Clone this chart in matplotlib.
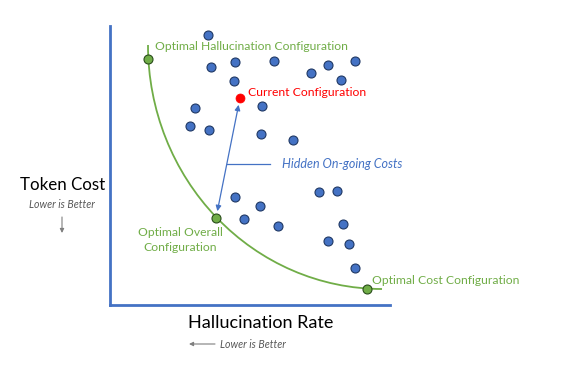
import matplotlib.pyplot as plt
from matplotlib.patches import Arc

plt.rcParams['font.family'] = ['Lato', 'DejaVu Sans']

BLUE = '#4472C4'
GREEN = '#70AD47'
RED = '#FF0000'

# other configurations (hallucination rate, token cost), arbitrary units
other_x = [98, 101, 125, 164, 201, 218, 245, 231, 124,
           85, 152, 80, 99, 151, 183,
           125, 150, 134, 168, 209, 227, 233, 218, 239, 245]
other_y = [270, 238, 243, 244, 232, 240, 244, 225, 224,
           197, 199, 179, 175, 171, 165,
           108, 99, 86, 79, 113, 114, 81, 64, 61, 37]

# points on the frontier: hallucination, overall, cost
optimal_x = [38, 106, 257]
optimal_y = [246, 87, 16]
optimal_names = ['Optimal Hallucination Configuration',
                 'Optimal Overall\nConfiguration',
                 'Optimal Cost Configuration']

current_x = 130
current_y = 207

# frontier drawn as a quarter ellipse
frontier_center = (272, 260)
frontier_w = 468
frontier_h = 488

fig = plt.figure(figsize=(5.7, 3.82), dpi=100)
ax = fig.add_axes([110 / 570, 77 / 382, 280 / 570, 279 / 382])
ax.set_xlim(0, 280)
ax.set_ylim(0, 279)
ax.set_xticks([])
ax.set_yticks([])
for side in ['top', 'right']:
    ax.spines[side].set_visible(False)
for side in ['left', 'bottom']:
    ax.spines[side].set_color(BLUE)
    ax.spines[side].set_linewidth(2)

ax.add_patch(Arc(frontier_center, frontier_w, frontier_h, theta1=180,
                 theta2=270, color=GREEN, lw=1.3))

ax.scatter(other_x, other_y, s=42, color=BLUE, edgecolors='#1F3864',
           linewidths=0.8, zorder=3)
ax.scatter(optimal_x, optimal_y, s=42, color=GREEN, edgecolors='#294D1A',
           linewidths=0.8, zorder=3)
ax.scatter([current_x], [current_y], s=42, color=RED, edgecolors=RED,
           linewidths=0.5, zorder=3)

# hidden costs arrow between current and overall optimum
ax.annotate('', xy=(optimal_x[1], optimal_y[1]), xytext=(current_x, current_y),
            arrowprops=dict(arrowstyle='<|-|>', color=BLUE, lw=0.9,
                            shrinkA=5, shrinkB=5, mutation_scale=8))
ax.plot([117, 160], [141, 141], color=BLUE, lw=0.9)
ax.text(172, 141, 'Hidden On-going Costs', color=BLUE, fontsize=9,
        style='italic', va='center', ha='left')

ax.text(current_x + 8, current_y + 6, 'Current Configuration', color=RED,
        fontsize=8.7, va='center', ha='left')
ax.text(optimal_x[0] + 7, optimal_y[0] + 12, optimal_names[0], color=GREEN,
        fontsize=8.7, va='center', ha='left')
ax.text(70, 65, optimal_names[1], color=GREEN, fontsize=8.7, va='center',
        ha='center', linespacing=1.35)
ax.text(optimal_x[2] + 5, optimal_y[2] + 9, optimal_names[2], color=GREEN,
        fontsize=8.7, va='center', ha='left', clip_on=False)

# axis titles
fig.text(63 / 570, 1 - 185 / 382, 'Token Cost', fontsize=12.2, ha='center',
         va='center')
fig.text(62 / 570, 1 - 205 / 382, 'Lower is Better', fontsize=7.6, ha='center',
         va='center', style='italic', color='#595959')
ax.annotate('', xy=(62 / 570, 1 - 233 / 382), xytext=(62 / 570, 1 - 217 / 382),
            xycoords='figure fraction', textcoords='figure fraction',
            arrowprops=dict(arrowstyle='-|>', color='#7F7F7F', lw=0.8,
                            mutation_scale=6, shrinkA=0, shrinkB=0))
fig.text(261 / 570, 1 - 323 / 382, 'Hallucination Rate', fontsize=13,
         ha='center', va='center')
fig.text(220 / 570, 1 - 344 / 382, 'Lower is Better', fontsize=7.6, ha='left',
         va='center', style='italic', color='#595959')
ax.annotate('', xy=(189 / 570, 1 - 344 / 382), xytext=(215 / 570, 1 - 344 / 382),
            xycoords='figure fraction', textcoords='figure fraction',
            arrowprops=dict(arrowstyle='-|>', color='#7F7F7F', lw=0.8,
                            mutation_scale=6, shrinkA=0, shrinkB=0))

fig.savefig('out.png', dpi=100)
